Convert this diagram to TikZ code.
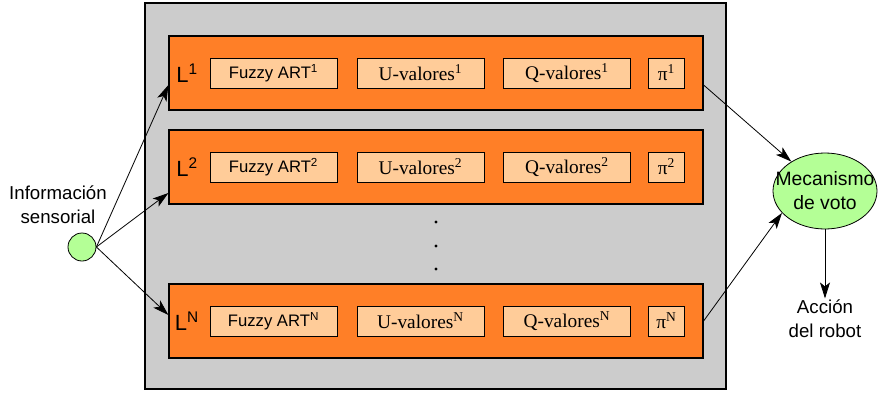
\documentclass[tikz,border=0pt]{standalone}
\usepackage{fontspec}
\setmainfont{Liberation Sans}
\newfontfamily\serifrm{Liberation Serif}
\usetikzlibrary{positioning, arrows.meta, shapes.geometric, calc}
\definecolor{LayerOrange}{RGB}{255,127,39}
\definecolor{BoxPeach}{RGB}{255,204,153}
\definecolor{PanelGray}{RGB}{204,204,204}
\definecolor{VoteGreen}{RGB}{180,255,150}

\tikzset{
  panel/.style={draw, fill=PanelGray, line width=0.8pt, minimum width=435.75pt, minimum height=289.5pt, inner sep=0pt},
  capa/.style={draw, fill=LayerOrange, line width=0.9pt, minimum width=400.5pt, minimum height=55.5pt, inner sep=0pt},
  caja/.style={draw, fill=BoxPeach, line width=0.7pt, minimum width=95.25pt, minimum height=22.5pt, inner sep=0pt, font=\fontsize{12.5}{14}\selectfont},
  cajaserif/.style={caja, font=\fontsize{14.5}{16}\serifrm},
  cajapi/.style={cajaserif, minimum width=27pt},
  etiqueta/.style={inner sep=0pt, font=\fontsize{16.5}{18}\selectfont},
  texto/.style={align=center, inner sep=1pt, font=\fontsize{14}{18}\selectfont},
  flecha/.style={-{Stealth[length=12pt, width=7.5pt, inset=3pt]}, line width=0.6pt},
}

\begin{document}
\begin{tikzpicture}[x=0.75pt, y=-0.75pt]
  \useasboundingbox (0,0) rectangle (879,393);
  \node[panel] (panel) at (435.5,196) {};
  % layers L^1, L^2, L^N
  \foreach \k/\y in {1/73, 2/167, N/321} {
    \node[capa] (l\k) at (436,\y) {};
    \node[etiqueta] (lab\k) at (187,\y) {L\textsuperscript{\k}};
    \node[caja] (fz\k) at (273.5,\y) {Fuzzy ART\textsuperscript{\k}};
    \node[cajaserif] (u\k) at (420.5,\y) {U-valores\textsuperscript{\k}};
    \node[cajaserif] (q\k) at (567,\y) {Q-valores\textsuperscript{\k}};
    \node[cajapi] (pi\k) at (666.5,\y) {π\textsuperscript{\k}};
  }
  \foreach \y in {222, 246, 269}
    \fill (436,\y) circle (1.6);
  % input
  \node[draw, circle, fill=VoteGreen, line width=0.6pt, minimum size=21pt, inner sep=0pt] (in) at (82,247) {};
  \node[texto] (info) at (58,205) {Información\\sensorial};
  \draw[flecha] (in.east) -- ($(l1.west)+(0,12)$);
  \draw[flecha] (in.east) -- ($(l2.west)+(0,26)$);
  \draw[flecha] (in.east) -- ($(lN.west)+(0,-6)$);
  % voting
  \node[draw, ellipse, fill=VoteGreen, line width=0.6pt, minimum width=78pt, minimum height=57pt, inner xsep=-10pt, inner ysep=0pt, font=\fontsize{14.5}{18}\selectfont, align=center] (voto) at (825,191) {Mecanismo\\de voto};
  \node[texto] (accion) at (825,319) {Acción\\del robot};
  \draw[flecha] ($(l1.east)+(0,12)$) -- (voto);
  \draw[flecha] (lN.east) -- (voto.207);
  \draw[flecha] (voto.south) -- (accion.north);
\end{tikzpicture}
\end{document}
